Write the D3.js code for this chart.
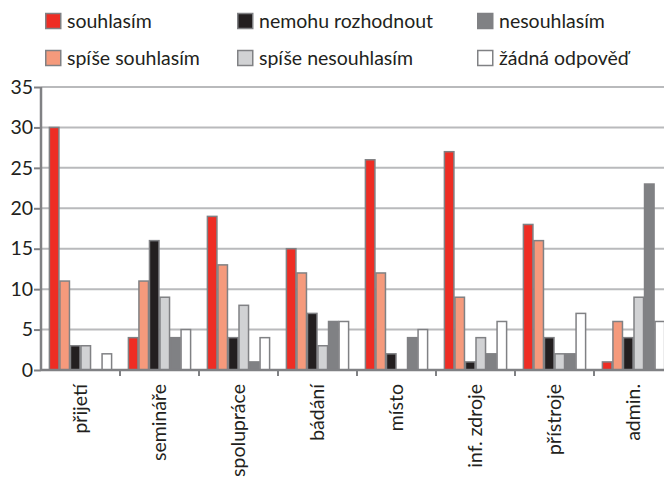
<!DOCTYPE html>
<html><head><meta charset="utf-8">
<script src="https://cdn.jsdelivr.net/npm/d3@7"></script>
<style>body{margin:0;background:#fff}svg{display:block}text{font-family:Lato,"Open Sans",sans-serif;fill:#231f20}</style>
</head><body>
<script>
const categories = ["přijetí","semináře","spolupráce","bádání","místo","inf. zdroje","přístroje","admin."];
const seriesNames = ["souhlasím","spíše souhlasím","nemohu rozhodnout","spíše nesouhlasím","nesouhlasím","žádná odpověď"];
const souhlasim        = [30, 4, 19, 15, 26, 27, 18, 1];
const spiseSouhlasim   = [11, 11, 13, 12, 12, 9, 16, 6];
const nemohuRozhodnout = [3, 16, 4, 7, 2, 1, 4, 4];
const spiseNesouhlasim = [3, 9, 8, 3, 0, 4, 2, 9];
const nesouhlasim      = [0, 4, 1, 6, 4, 2, 2, 23];
const zadnaOdpoved     = [2, 5, 4, 6, 5, 6, 7, 6];
const yTicks = [0,5,10,15,20,25,30,35];
const colors = ["#ee2d24","#f59a7c","#231f20","#d1d2d4","#808184","#ffffff"];

const seriesValues = [souhlasim, spiseSouhlasim, nemohuRozhodnout, spiseNesouhlasim, nesouhlasim, zadnaOdpoved];
const W = 664, H = 478;
const FS = 19.5;
const svg = d3.select("body").append("svg").attr("width", W).attr("height", H);

const x0 = d3.scaleBand().domain(categories).range([41, 41 + 8*79]).paddingInner(0.2).paddingOuter(0.1);
const x1 = d3.scaleBand().domain(seriesNames).range([0, x0.bandwidth()]).padding(0);
const y = d3.scaleLinear().domain([0, 35]).range([370, 87]);

// gridlines
svg.append("g").selectAll("line").data(yTicks.filter(d => d > 0)).join("line")
  .attr("x1", 41).attr("x2", W).attr("y1", d => y(d)).attr("y2", d => y(d))
  .attr("stroke", "#b9babc").attr("stroke-width", 2);

// bars
const groups = svg.append("g").selectAll("g").data(categories).join("g")
  .attr("transform", d => `translate(${x0(d)},0)`);
groups.selectAll("rect").data((c, ci) => seriesNames.map((s, si) => ({s, si, v: seriesValues[si][ci]})))
  .join("rect")
  .attr("x", d => x1(d.s) + 0.5).attr("width", x1.bandwidth() - 1)
  .attr("y", d => y(d.v)).attr("height", d => y(0) - y(d.v))
  .attr("fill", d => colors[d.si]).attr("stroke", "#808184").attr("stroke-width", 1.5);

// y axis
const yAxis = d3.axisLeft(y).tickValues(yTicks).tickSize(7).tickPadding(1);
const gy = svg.append("g").attr("transform", "translate(41,0)").call(yAxis);
gy.select(".domain").attr("stroke", "#808184").attr("stroke-width", 2.5).attr("d", `M0,${y(35)}V${y(0)}`);
gy.selectAll(".tick line").attr("stroke", "#808184").attr("stroke-width", 2);
gy.selectAll("text").attr("font-size", FS).attr("font-family", "Lato").attr("fill", "#231f20");

// x axis
const xAxis = d3.axisBottom(x0).tickSize(0).tickPadding(0);
const gx = svg.append("g").attr("transform", `translate(0,${y(0)})`).call(xAxis);
gx.select(".domain").attr("d", `M41,0H${W}`).attr("stroke", "#808184").attr("stroke-width", 2.5);
gx.selectAll(".tick text").attr("font-size", FS).attr("font-family", "Lato").attr("fill", "#231f20")
  .attr("text-anchor", "end").attr("transform", "translate(0,14) rotate(-90)").attr("dy", "0.35em").attr("x", 0).attr("y", 0);
// boundary ticks between categories
svg.append("g").selectAll("line").data(categories.slice(1)).join("line")
  .attr("x1", d => x0(d) - x0.step()*0.1).attr("x2", d => x0(d) - x0.step()*0.1)
  .attr("y1", y(0)).attr("y2", y(0) + 6)
  .attr("stroke", "#808184").attr("stroke-width", 2);

// legend
const legPos = [[45,21],[45,58],[237,21],[237,58],[477,21],[477,58]];
const leg = svg.append("g").selectAll("g").data(seriesNames).join("g")
  .attr("transform", (d, i) => `translate(${legPos[i][0]},${legPos[i][1]})`);
leg.append("rect").attr("x", 0.75).attr("y", -7.5).attr("width", 15).attr("height", 15)
  .attr("fill", (d, i) => colors[i]).attr("stroke", "#808184").attr("stroke-width", 1.5);
leg.append("text").attr("x", 22).attr("y", 0).attr("dy", "0.35em").attr("font-size", FS).text(d => d);
</script>
</body></html>
